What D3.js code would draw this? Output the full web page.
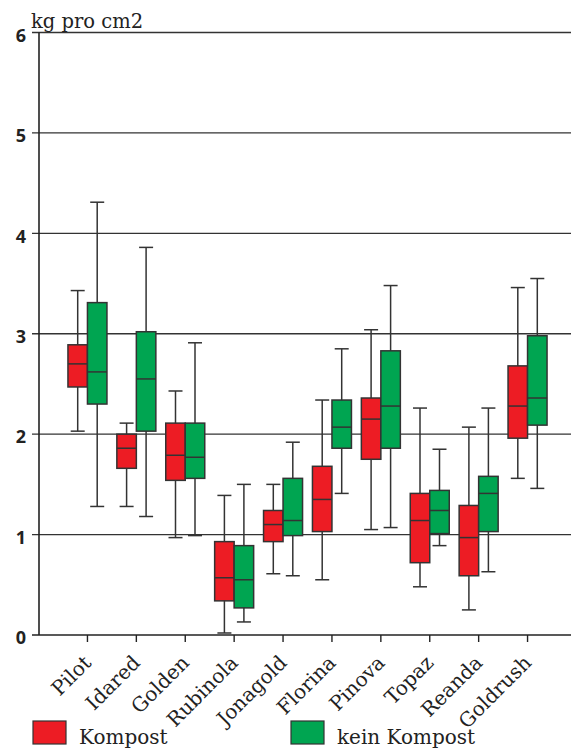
<!DOCTYPE html>
<html>
<head>
<meta charset="utf-8">
<script src="https://cdn.jsdelivr.net/npm/d3@7"></script>
<style>
  body { margin: 0; background: #fff; }
</style>
</head>
<body>
<svg id="chart" width="571" height="751"></svg>
<script>
const categories = ["Pilot", "Idared", "Golden", "Rubinola", "Jonagold", "Florina", "Pinova", "Topaz", "Reanda", "Goldrush"];
const seriesNames = ["Kompost", "kein Kompost"];
const yTicks = [0, 1, 2, 3, 4, 5, 6];

// [min, q1, median, q3, max] per Sorte
const kompost = [
  [2.03, 2.47, 2.70, 2.89, 3.43],
  [1.28, 1.66, 1.86, 2.00, 2.11],
  [0.97, 1.54, 1.79, 2.11, 2.43],
  [0.02, 0.34, 0.57, 0.93, 1.39],
  [0.61, 0.93, 1.10, 1.24, 1.50],
  [0.55, 1.03, 1.35, 1.68, 2.34],
  [1.05, 1.75, 2.15, 2.36, 3.04],
  [0.48, 0.72, 1.14, 1.41, 2.26],
  [0.25, 0.59, 0.97, 1.29, 2.07],
  [1.56, 1.96, 2.28, 2.68, 3.46]
];
const keinKompost = [
  [1.28, 2.30, 2.62, 3.31, 4.31],
  [1.18, 2.03, 2.55, 3.02, 3.86],
  [0.99, 1.56, 1.77, 2.11, 2.91],
  [0.13, 0.27, 0.55, 0.89, 1.50],
  [0.59, 0.99, 1.14, 1.56, 1.92],
  [1.41, 1.86, 2.07, 2.34, 2.85],
  [1.07, 1.86, 2.28, 2.83, 3.48],
  [0.89, 1.01, 1.24, 1.44, 1.85],
  [0.63, 1.03, 1.41, 1.58, 2.26],
  [1.46, 2.09, 2.36, 2.98, 3.55]
];

const serif = "'DejaVu Serif', 'Liberation Serif', serif";
const sans = "'Open Sans', 'DejaVu Sans', sans-serif";

const svg = d3.select("#chart");
const axisX = 39, gridLeft = 32, gridRight = 571;
const color = d3.scaleOrdinal().domain(seriesNames).range(["#ed1c24", "#00a551"]);

const y = d3.scaleLinear().domain([0, 6]).range([635, 32.5]);
const x0 = d3.scaleBand().domain(categories).range([63, 552]);
const x1 = d3.scaleBand().domain(seriesNames).range([x0.bandwidth() / 2 - 19.5, x0.bandwidth() / 2 + 19.5]);

// Gitterlinien
svg.append("g")
  .selectAll("line")
  .data(yTicks.filter(d => d > 0))
  .join("line")
    .attr("x1", gridLeft).attr("x2", gridRight)
    .attr("y1", d => y(d)).attr("y2", d => y(d))
    .attr("stroke", "#333").attr("stroke-width", 1.4);

// y-Achse
svg.append("line")
  .attr("x1", axisX).attr("x2", axisX)
  .attr("y1", y(6)).attr("y2", y(0))
  .attr("stroke", "#222").attr("stroke-width", 1.6);

svg.append("g")
  .selectAll("text")
  .data(yTicks)
  .join("text")
    .attr("x", 26)
    .attr("y", d => y(d) + 3)
    .attr("dy", "0.35em")
    .attr("text-anchor", "end")
    .attr("font-family", sans)
    .attr("font-weight", "bold")
    .attr("font-size", "18px")
    .attr("fill", "#222")
    .text(d => d);

svg.append("text")
  .attr("x", 31).attr("y", 28)
  .attr("font-family", serif)
  .attr("font-size", "19.5px")
  .attr("fill", "#222")
  .text("kg pro cm2");

// Boxplots
const boxes = [];
categories.forEach((c, i) => {
  boxes.push({ cat: c, series: seriesNames[0], s: kompost[i] });
  boxes.push({ cat: c, series: seriesNames[1], s: keinKompost[i] });
});

const g = svg.append("g")
  .selectAll("g")
  .data(boxes)
  .join("g")
    .attr("transform", d => `translate(${x0(d.cat) + x1(d.series)},0)`);

const bw = x1.bandwidth();
g.append("line")
  .attr("x1", bw / 2).attr("x2", bw / 2)
  .attr("y1", d => y(d.s[0])).attr("y2", d => y(d.s[4]))
  .attr("stroke", "#333").attr("stroke-width", 1.5);
g.selectAll(".cap")
  .data(d => [d.s[0], d.s[4]])
  .join("line")
    .attr("class", "cap")
    .attr("x1", bw / 2 - 7).attr("x2", bw / 2 + 7)
    .attr("y1", v => y(v)).attr("y2", v => y(v))
    .attr("stroke", "#333").attr("stroke-width", 1.5);
g.append("rect")
  .attr("x", 0).attr("width", bw)
  .attr("y", d => y(d.s[3]))
  .attr("height", d => y(d.s[1]) - y(d.s[3]))
  .attr("fill", d => color(d.series))
  .attr("stroke", "#333").attr("stroke-width", 1.5);
g.append("line")
  .attr("x1", 0).attr("x2", bw)
  .attr("y1", d => y(d.s[2])).attr("y2", d => y(d.s[2]))
  .attr("stroke", "#333").attr("stroke-width", 1.5);

// x-Achse
svg.append("line")
  .attr("x1", gridLeft).attr("x2", gridRight)
  .attr("y1", y(0)).attr("y2", y(0))
  .attr("stroke", "#222").attr("stroke-width", 1.6);

const xt = svg.append("g")
  .selectAll("g")
  .data(categories)
  .join("g")
    .attr("transform", d => `translate(${x0(d) + x0.bandwidth() / 2},${y(0)})`);
xt.append("line")
  .attr("y1", 0).attr("y2", 7)
  .attr("stroke", "#222").attr("stroke-width", 1.4);
xt.append("text")
  .attr("transform", "translate(5,29) rotate(-45)")
  .attr("text-anchor", "end")
  .attr("font-family", serif)
  .attr("font-size", "20px")
  .attr("fill", "#222")
  .text(d => d);

// Legende
const legendX = [33, 291];
const legend = svg.append("g")
  .selectAll("g")
  .data(seriesNames)
  .join("g")
    .attr("transform", (d, i) => `translate(${legendX[i]},721)`);
legend.append("rect")
  .attr("width", 33).attr("height", 23)
  .attr("fill", d => color(d))
  .attr("stroke", "#333").attr("stroke-width", 1.2);
legend.append("text")
  .attr("x", 46).attr("y", 23)
  .attr("font-family", serif)
  .attr("font-size", "20px")
  .attr("fill", "#222")
  .text(d => d);
</script>
</body>
</html>
